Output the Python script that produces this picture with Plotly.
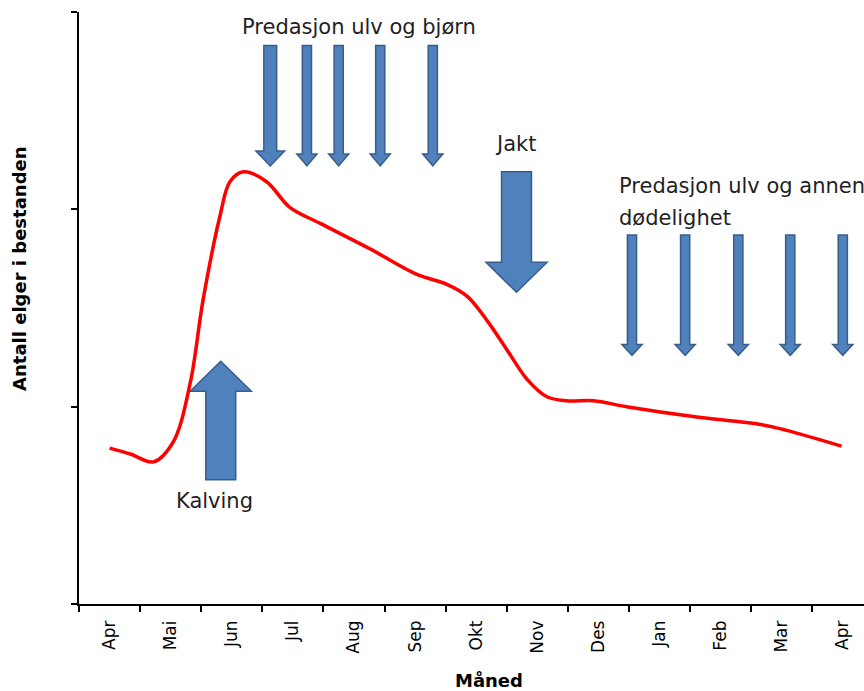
import plotly.graph_objects as go

# months on the x axis (one category per month, Apr repeats at the end)
months = ["Apr", "Mai", "Jun", "Jul", "Aug", "Sep", "Okt", "Nov",
          "Des", "Jan", "Feb", "Mar", "Apr"]

# population curve (x in month units, y in axis units 0-3)
curve_x = [0.0, 0.34, 0.72, 1.04, 1.32, 1.53, 1.81, 1.97, 2.19, 2.57, 2.95,
           3.44, 4.26, 5.03, 5.52, 5.85, 6.17, 6.50, 6.83, 7.16, 7.48, 7.92,
           8.46, 9.55, 10.65, 11.08, 11.98]
curve_y = [0.79, 0.76, 0.72, 0.82, 1.12, 1.54, 1.97, 2.14, 2.19, 2.14, 2.01,
           1.93, 1.80, 1.67, 1.62, 1.56, 1.44, 1.29, 1.14, 1.05, 1.03, 1.03,
           1.00, 0.95, 0.91, 0.88, 0.80]

# centres of the thin arrows
bjorn_x = [2.63, 3.23, 3.75, 4.43, 5.29]
annen_x = [8.55, 9.42, 10.29, 11.14, 12.0]

FILL = "#4F81BD"
EDGE = "#385D8A"
TXT = "#1f1f1f"


def arrow_path(xc, y0, y1, shaft, head, head_h):
    # y0 = tail, y1 = tip (works both up and down)
    d = 1 if y1 > y0 else -1
    yb = y1 - d * head_h
    s, h = shaft / 2, head / 2
    pts = [(xc - s, y0), (xc - s, yb), (xc - h, yb), (xc, y1),
           (xc + h, yb), (xc + s, yb), (xc + s, y0)]
    return "M " + " L ".join(f"{x:.4f},{y:.4f}" for x, y in pts) + " Z"


shapes = []


def add_arrow(xc, y0, y1, shaft, head, head_h):
    shapes.append(dict(type="path", xref="x", yref="y",
                       path=arrow_path(xc, y0, y1, shaft, head, head_h),
                       fillcolor=FILL, line=dict(color=EDGE, width=1.5),
                       layer="below"))


for i, xc in enumerate(bjorn_x):
    if i == 0:
        add_arrow(xc, 2.83, 2.22, 0.21, 0.47, 0.076)
    else:
        add_arrow(xc, 2.83, 2.22, 0.15, 0.33, 0.061)

add_arrow(6.66, 2.19, 1.58, 0.49, 1.0, 0.152)   # Jakt
add_arrow(1.82, 0.63, 1.23, 0.49, 1.0, 0.152)   # Kalving

for xc in annen_x:
    add_arrow(xc, 1.87, 1.26, 0.15, 0.33, 0.055)

fig = go.Figure()
fig.add_trace(go.Scatter(
    x=curve_x, y=curve_y, mode="lines",
    line=dict(color="#FF0000", width=3.5, shape="spline", smoothing=1.0),
    hoverinfo="skip", showlegend=False
))

note_font = dict(family="DejaVu Sans, sans-serif", size=21, color=TXT)
annotations = [
    dict(text="Predasjon ulv og bjørn", x=4.08, y=2.924, xanchor="center", yanchor="middle"),
    dict(text="Jakt", x=6.65, y=2.331, xanchor="center", yanchor="middle"),
    dict(text="Predasjon ulv og annen", x=8.30, y=2.118, xanchor="left", yanchor="middle"),
    dict(text="dødelighet", x=8.30, y=1.956, xanchor="left", yanchor="middle"),
    dict(text="Kalving", x=1.72, y=0.522, xanchor="center", yanchor="middle"),
]
for a in annotations:
    a.update(xref="x", yref="y", showarrow=False, font=note_font)

axis_font = dict(family="DejaVu Sans, sans-serif", size=18, color="black")
annotations.append(dict(
    text="<b>Antall elger i bestanden</b>", xref="paper", yref="paper",
    x=-0.0752, y=0.566, xanchor="center", yanchor="middle", textangle=-90,
    showarrow=False, font=axis_font
))
annotations.append(dict(
    text="<b>Måned</b>", xref="paper", yref="paper",
    x=0.522, y=-0.130, xanchor="center", yanchor="middle",
    showarrow=False, font=axis_font
))

fig.update_layout(
    width=864, height=691,
    margin=dict(l=79, r=0, t=12, b=87),
    plot_bgcolor="white", paper_bgcolor="white",
    shapes=shapes, annotations=annotations,
    xaxis=dict(
        range=[-0.5, 12.347], tickmode="array",
        tickvals=list(range(len(months))), ticktext=months,
        tickangle=-90, ticks="outside", ticklen=8, tickcolor="rgba(0,0,0,0)",
        tickfont=dict(family="DejaVu Sans, sans-serif", size=17, color="black"),
        minor=dict(tickmode="array", tickvals=[i - 0.5 for i in range(len(months) + 1)],
                   ticks="outside", ticklen=6, tickwidth=1.5, tickcolor="black",
                   showgrid=False),
        showline=True, linecolor="black", linewidth=1.5,
        showgrid=False, zeroline=False, fixedrange=True
    ),
    yaxis=dict(
        range=[0, 3], tickvals=[0, 1, 2, 3], showticklabels=False,
        ticks="outside", ticklen=6, tickwidth=1.5, tickcolor="black",
        showline=True, linecolor="black", linewidth=1.5,
        showgrid=False, zeroline=False, fixedrange=True
    ),
)

# drop the default page margin so the figure fills the window exactly
fig.write_html("out.html", config={"displayModeBar": False},
               post_script="document.body.style.margin='0';document.body.style.overflow='hidden';")
